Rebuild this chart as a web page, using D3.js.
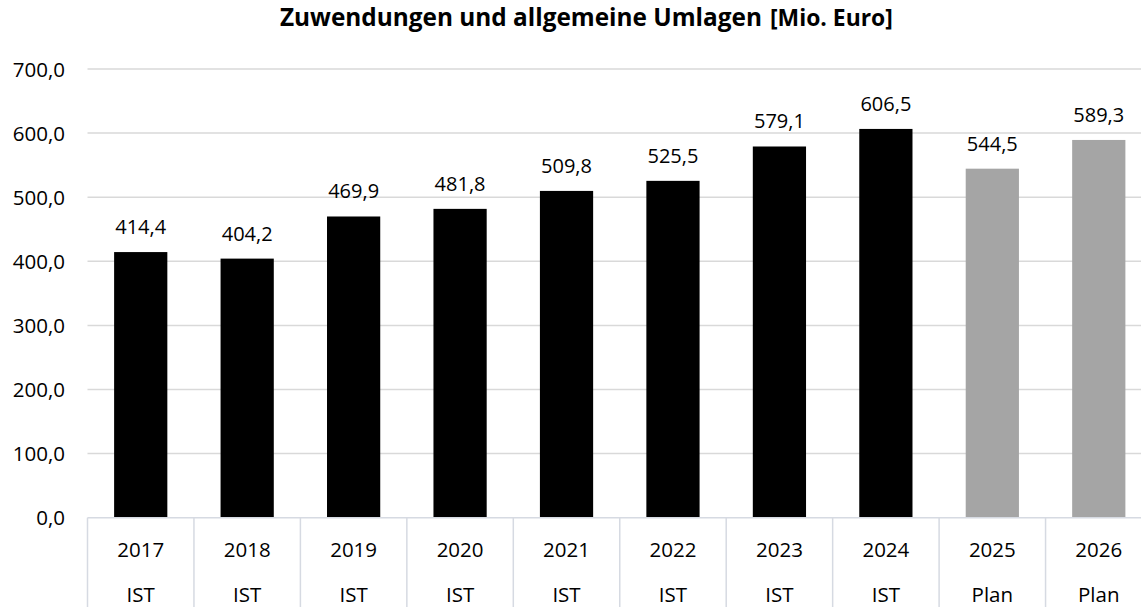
<!DOCTYPE html>
<html>
<head>
<meta charset="utf-8">
<script src="https://cdn.jsdelivr.net/npm/d3@7"></script>
<style>
  body { margin: 0; background: #fff; }
  text { font-family: "Open Sans", "Noto Sans", sans-serif; fill: #000; }
</style>
</head>
<body>
<script>
    // chart data
    const years = ["2017", "2018", "2019", "2020", "2021", "2022", "2023", "2024", "2025", "2026"];
    const status = ["IST", "IST", "IST", "IST", "IST", "IST", "IST", "IST", "Plan", "Plan"];
    const values = [414.4, 404.2, 469.9, 481.8, 509.8, 525.5, 579.1, 606.5, 544.5, 589.3];
    const yTicks = [0, 100, 200, 300, 400, 500, 600, 700];

    const width = 1141;
    const height = 607;
    const plotLeft = 87.5, plotRight = 1152, plotTop = 69, plotBottom = 517.7;

    const de = d3.formatLocale({ decimal: ",", thousands: ".", grouping: [3], currency: ["", " €"] });
    const fmt = de.format(".1f");

    const svg = d3.select("body")
        .append("svg")
        .attr("width", width)
        .attr("height", height);

    const x = d3.scaleBand()
        .domain(years)
        .range([plotLeft, plotRight])
        .padding(0);

    const y = d3.scaleLinear()
        .domain([0, 700])
        .range([plotBottom, plotTop]);

    // Title - two parts, sized to fit the widths seen in the original
    function fitText(sel, target) {
        const w = sel.node().getComputedTextLength();
        const fs = parseFloat(sel.attr("font-size"));
        sel.attr("font-size", (fs * target / w) + "px");
    }
    const titleMain = svg.append("text")
        .attr("x", 280)
        .attr("y", 25.5)
        .attr("font-weight", "bold")
        .attr("font-size", "20px")
        .text("Zuwendungen und allgemeine Umlagen");
    fitText(titleMain, 482);

    const titleUnit = svg.append("text")
        .attr("x", 770)
        .attr("y", 25.5)
        .attr("font-weight", "bold")
        .attr("font-size", "16px")
        .text("[Mio. Euro]");
    fitText(titleUnit, 123);

    // Gridlines (skip 0, axis line drawn there)
    svg.selectAll(".grid")
        .data(yTicks.filter(d => d > 0))
        .enter()
        .append("line")
        .attr("x1", plotLeft)
        .attr("x2", width)
        .attr("y1", d => y(d))
        .attr("y2", d => y(d))
        .attr("stroke", "#d9d9d9")
        .attr("stroke-width", 1.5);

    // Y labels
    svg.selectAll(".ylab")
        .data(yTicks)
        .enter()
        .append("text")
        .attr("x", 65)
        .attr("y", d => y(d) + 7.5)
        .attr("text-anchor", "end")
        .attr("font-size", "20.5px")
        .text(d => fmt(d));

    // Bars
    const barW = x.bandwidth() * 0.5;
    svg.selectAll(".bar")
        .data(values)
        .enter()
        .append("rect")
        .attr("x", (d, i) => x(years[i]) + (x.bandwidth() - barW) / 2)
        .attr("y", d => y(d))
        .attr("width", barW)
        .attr("height", d => y(0) - y(d))
        .attr("fill", (d, i) => status[i] === "Plan" ? "#a5a5a5" : "#000");

    // Value labels
    svg.selectAll(".vlab")
        .data(values)
        .enter()
        .append("text")
        .attr("x", (d, i) => x(years[i]) + x.bandwidth() / 2)
        .attr("y", d => y(d) - 18)
        .attr("text-anchor", "middle")
        .attr("font-size", "20px")
        .text(d => fmt(d));

    // Category axis: base line + separators
    const axisColor = "#d6dae2";
    svg.append("line")
        .attr("x1", plotLeft)
        .attr("x2", width)
        .attr("y1", plotBottom)
        .attr("y2", plotBottom)
        .attr("stroke", axisColor)
        .attr("stroke-width", 1.5);

    svg.selectAll(".sep")
        .data(years)
        .enter()
        .append("line")
        .attr("x1", d => x(d))
        .attr("x2", d => x(d))
        .attr("y1", plotBottom)
        .attr("y2", height)
        .attr("stroke", axisColor)
        .attr("stroke-width", 1.5);

    svg.selectAll(".year")
        .data(years)
        .enter()
        .append("text")
        .attr("x", d => x(d) + x.bandwidth() / 2)
        .attr("y", 556.5)
        .attr("text-anchor", "middle")
        .attr("font-size", "20.5px")
        .text(d => d);

    svg.selectAll(".status")
        .data(status)
        .enter()
        .append("text")
        .attr("x", (d, i) => x(years[i]) + x.bandwidth() / 2)
        .attr("y", 601.5)
        .attr("text-anchor", "middle")
        .attr("font-size", "20.5px")
        .text(d => d);
</script>
</body>
</html>
